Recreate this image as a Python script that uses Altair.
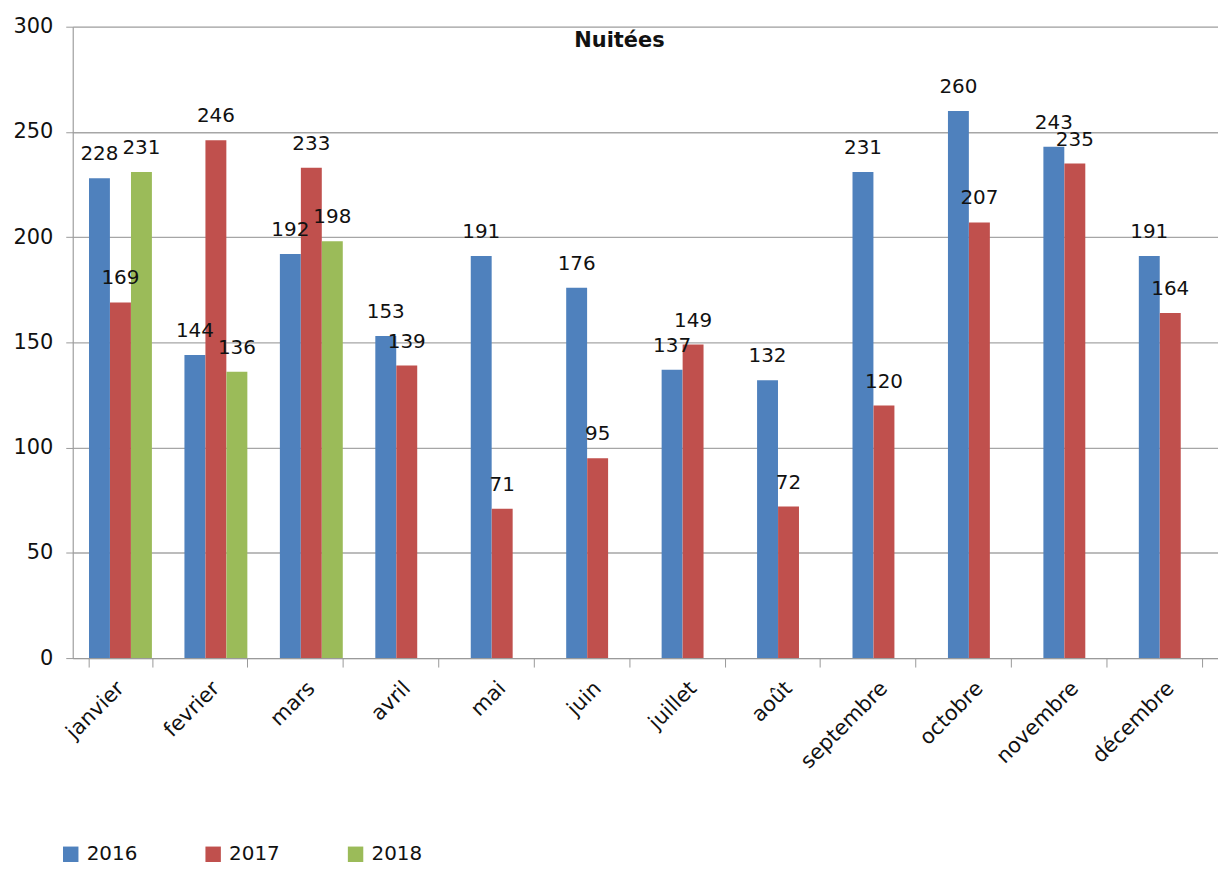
import altair as alt
import pandas as pd

months = ["janvier", "fevrier", "mars", "avril", "mai", "juin", "juillet",
          "août", "septembre", "octobre", "novembre", "décembre"]
years = ["2016", "2017", "2018"]
v2016 = [228, 144, 192, 153, 191, 176, 137, 132, 231, 260, 243, 191]
v2017 = [169, 246, 233, 139, 71, 95, 149, 72, 120, 207, 235, 164]
v2018 = [231, 136, 198]
colors = ["#4F81BD", "#C0504D", "#9BBB59"]

rows = []
for y, vals in zip(years, [v2016, v2017, v2018]):
    for m, v in zip(months, vals):
        rows.append({"mois": m, "annee": y, "valeur": v})
df = pd.DataFrame(rows)

FONT = "DejaVu Sans"

x = alt.X("mois:N", sort=months, title=None,
          scale=alt.Scale(paddingInner=0.34, paddingOuter=0.17),
          axis=alt.Axis(labelAngle=-45, labelAlign="right", labelBaseline="middle",
                        labelFontSize=21, labelFont=FONT, labelColor="#111",
                        labelPadding=18, tickBand="extent", tickSize=9,
                        tickColor="#999", domainColor="#999", grid=False))
xo = alt.XOffset("annee:N", sort=years, scale=alt.Scale(domain=years, paddingInner=0, paddingOuter=0))
y = alt.Y("valeur:Q", title=None,
          scale=alt.Scale(domain=[0, 300], nice=False),
          axis=alt.Axis(values=[0, 50, 100, 150, 200, 250, 300], labelFontSize=21,
                        labelFont=FONT, labelColor="#111", tickSize=7,
                        labelPadding=13, tickColor="#999", domainColor="#999",
                        gridColor="#a6a6a6", gridWidth=1.3))

color = alt.Color("annee:N", sort=years,
                  scale=alt.Scale(domain=years, range=colors),
                  legend=alt.Legend(title=None, orient="none", direction="horizontal",
                                    legendX=-12, legendY=821, symbolType="square",
                                    symbolSize=240, symbolStrokeWidth=0,
                                    labelFontSize=20, labelFont=FONT, labelColor="#111",
                                    columnPadding=66, labelOffset=6))

bars = alt.Chart(df).mark_bar(size=21).encode(x=x, xOffset=xo, y=y, color=color)
labels = alt.Chart(df).mark_text(dy=-24, fontSize=20, font=FONT, color="#111").encode(
    x=alt.X("mois:N", sort=months), xOffset=xo, y="valeur:Q", text="valeur:Q")
title = alt.Chart(pd.DataFrame({"t": ["Nuitées"]})).mark_text(
    fontSize=21, font=FONT, fontWeight="bold", color="#111").encode(
    x=alt.value(549), y=alt.value(14), text="t:N")

chart = alt.layer(bars, labels, title).properties(
    width=1150, height=634,
    autosize=alt.AutoSizeParams(type="none"),
    padding={"left": 65, "top": 17, "right": 0, "bottom": 206},
).configure_view(stroke=None).configure(background="white")

chart.save("out.html", embed_options={"renderer": "svg", "actions": False})
